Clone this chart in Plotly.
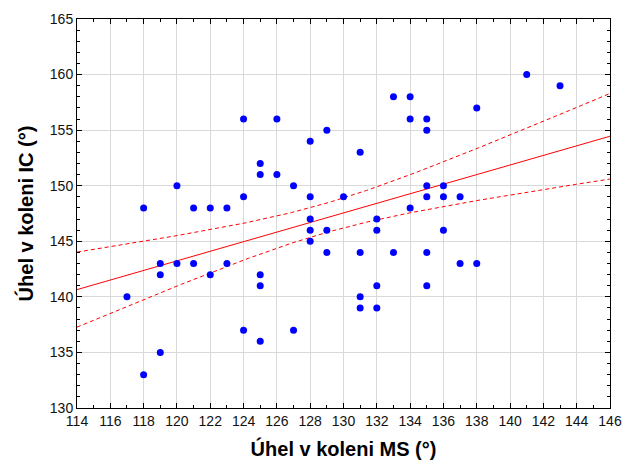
import numpy as np
import plotly.graph_objects as go

# Knee angle MS (x) and IC (y)
ms_angle = [117, 118, 118, 119, 119, 119, 120, 120, 121, 121, 122, 122, 123, 123,
            124, 124, 124, 125, 125, 125, 125, 125, 126, 126, 127, 127,
            128, 128, 128, 128, 128, 129, 129, 129, 130, 131, 131, 131, 131,
            132, 132, 132, 132, 133, 133, 134, 134, 134,
            135, 135, 135, 135, 135, 135, 136, 136, 136, 137, 137, 138, 138, 141, 143]
ic_angle = [140, 148, 133, 143, 142, 135, 150, 143, 148, 143, 148, 142, 148, 143,
            156, 149, 137, 152, 151, 142, 141, 136, 156, 151, 150, 137,
            154, 149, 147, 146, 145, 155, 146, 144, 149, 153, 144, 140, 139,
            147, 146, 141, 139, 158, 144, 158, 156, 148,
            156, 155, 150, 149, 144, 141, 150, 149, 146, 149, 143, 157, 143, 160, 159]

x_ticks = list(range(114, 147, 2))
y_ticks = list(range(130, 166, 5))
x_title = "Úhel v koleni MS (°)"
y_title = "Úhel v koleni IC (°)"

x = np.array(ms_angle, dtype=float)
y = np.array(ic_angle, dtype=float)
n = len(x)
slope, intercept = np.polyfit(x, y, 1)
resid = y - (slope * x + intercept)
s = np.sqrt(np.sum(resid ** 2) / (n - 2))
xm = x.mean()
sxx = np.sum((x - xm) ** 2)
t_crit = 1.8
xl = np.linspace(114, 146, 200)
yl = slope * xl + intercept
se = s * np.sqrt(1 / n + (xl - xm) ** 2 / sxx)
upper = yl + t_crit * se
lower = yl - t_crit * se

fig = go.Figure()
fig.add_trace(go.Scatter(x=xl, y=upper, mode="lines",
                         line=dict(color="#ff0000", width=1, dash="4px,3px"),
                         hoverinfo="skip", showlegend=False))
fig.add_trace(go.Scatter(x=xl, y=lower, mode="lines",
                         line=dict(color="#ff0000", width=1, dash="4px,3px"),
                         hoverinfo="skip", showlegend=False))
fig.add_trace(go.Scatter(x=xl, y=yl, mode="lines",
                         line=dict(color="#ff0000", width=1),
                         hoverinfo="skip", showlegend=False))
fig.add_trace(go.Scatter(x=ms_angle, y=ic_angle, mode="markers",
                         marker=dict(color="#0000ff", size=7, line=dict(width=0)),
                         showlegend=False))

axis_common = dict(
    showline=True, linecolor="#000000", linewidth=1, mirror="allticks",
    ticks="inside", ticklen=5, tickcolor="#000000", automargin=False,
    showgrid=True, gridcolor="#d9d9d9", gridwidth=1, zeroline=False,
    tickfont=dict(family="Liberation Sans, Arial, sans-serif", size=14, color="#111111"),
)

fig.update_xaxes(range=[114, 146], tickvals=x_ticks, ticktext=[str(v) for v in x_ticks],
                 minor=dict(dtick=1, ticks="inside", ticklen=3, tickcolor="#000000", showgrid=False),
                 title=dict(text=x_title, standoff=14,
                            font=dict(family="Liberation Sans, Arial, sans-serif", size=20,
                                      color="#000000", weight="bold")),
                 **axis_common)
fig.update_yaxes(range=[130, 165], tickvals=y_ticks, ticktext=[str(v) for v in y_ticks],
                 minor=dict(dtick=1, ticks="inside", ticklen=3, tickcolor="#000000", showgrid=False),
                 title=dict(text=y_title, standoff=10,
                            font=dict(family="Liberation Sans, Arial, sans-serif", size=20,
                                      color="#000000", weight="bold")),
                 **axis_common)

fig.update_layout(
    width=625, height=467,
    margin=dict(l=77, r=15, t=19, b=59),
    paper_bgcolor="white", plot_bgcolor="white",
    font=dict(family="Liberation Sans, Arial, sans-serif"),
)

fig.write_html("out.html")
